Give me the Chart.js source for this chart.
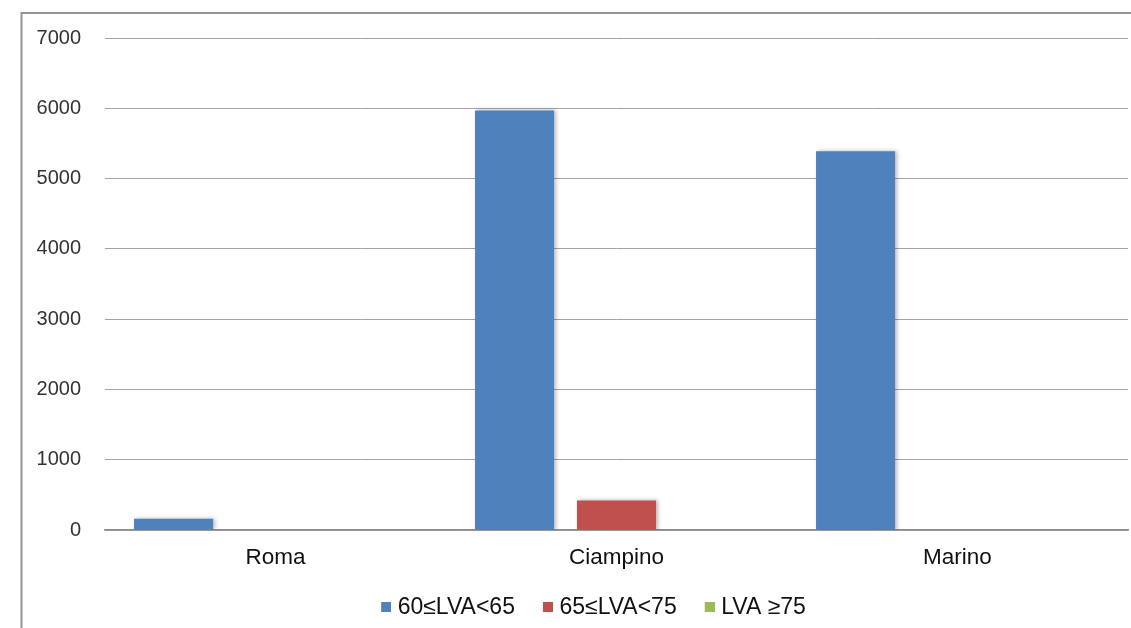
<!DOCTYPE html>
<html>
<head>
<meta charset="utf-8">
<script src="https://cdn.jsdelivr.net/npm/chart.js@4/dist/chart.umd.min.js"></script>
<style>
  html, body { margin: 0; padding: 0; background: #fff; }
  #wrap { width: 1131px; height: 628px; }
</style>
</head>
<body>
<div id="wrap"><canvas id="c" width="1131" height="628"></canvas></div>
<script>
// Comuni e classi di esposizione al rumore
const categories = ['Roma', 'Ciampino', 'Marino'];
const seriesLabels = ['60≤LVA<65', '65≤LVA<75', 'LVA ≥75'];
const lva60to65 = [160, 5970, 5390];
const lva65to75 = [0, 420, 8];
const lva75plus = [0, 0, 0];
const yTicks = [0, 1000, 2000, 3000, 4000, 5000, 6000, 7000];

const colors = ['#4F81BD', '#C0504D', '#9BBB59'];
const FONT = '"Liberation Sans", Arial, sans-serif';

// small square swatch, drawn on the right half so it sits close to its text
function legendSwatch(color) {
  const c = document.createElement('canvas');
  c.width = 20;
  c.height = 10;
  const g = c.getContext('2d');
  g.fillStyle = color;
  g.fillRect(10, 0, 10, 10);
  return c;
}

// white background plus the grey frame on the left and top edges
const framePlugin = {
  id: 'frame',
  beforeDraw(chart) {
    const ctx = chart.ctx;
    ctx.save();
    ctx.fillStyle = '#fff';
    ctx.fillRect(0, 0, chart.width, chart.height);
    ctx.strokeStyle = '#959595';
    ctx.lineWidth = 2;
    ctx.beginPath();
    ctx.moveTo(21.5, chart.height);
    ctx.lineTo(21.5, 13);
    ctx.lineTo(chart.width, 13);
    ctx.stroke();
    ctx.restore();
  }
};

// centre the legend row under the frame rather than the full canvas
const legendShift = {
  id: 'legendShift',
  afterLayout(chart) {
    if (chart.legend) {
      chart.legend.left += 54;
      chart.legend.top += 2;
      chart.legend.bottom += 2;
    }
  }
};

// soft drop shadow under the bars
const shadowPlugin = {
  id: 'barShadow',
  beforeDatasetsDraw(chart) {
    const ctx = chart.ctx;
    ctx.save();
    ctx.shadowColor = 'rgba(0,0,0,0.28)';
    ctx.shadowBlur = 4;
    ctx.shadowOffsetX = 2;
    ctx.shadowOffsetY = 0;
  },
  afterDatasetsDraw(chart) {
    chart.ctx.restore();
  }
};

const seriesValues = [lva60to65, lva65to75, lva75plus];

new Chart(document.getElementById('c'), {
  type: 'bar',
  data: {
    labels: categories,
    datasets: seriesValues.map((vals, i) => ({
      label: seriesLabels[i],
      data: vals,
      backgroundColor: colors[i],
      borderWidth: 0,
      pointStyle: legendSwatch(colors[i]),
      categoryPercentage: 0.897,
      barPercentage: 0.775
    }))
  },
  options: {
    responsive: false,
    animation: false,
    devicePixelRatio: 1,
    layout: { padding: { top: 38, right: 3, left: 0, bottom: 1.25 } },
    scales: {
      y: {
        min: 0,
        max: 7000,
        afterBuildTicks(scale) { scale.ticks = yTicks.map(v => ({ value: v })); },
        afterFit(scale) { scale.width = 105; },
        border: { display: false },
        grid: { color: '#a3a3a3', lineWidth: 1, drawTicks: false },
        ticks: {
          padding: 24,
          color: '#333',
          font: { family: FONT, size: 20 },
          callback: v => String(v)
        }
      },
      x: {
        afterFit(scale) { scale.height = 40.75; },
        grid: { display: false, drawTicks: false },
        border: { display: true, color: '#8c8c8c', width: 1.5 },
        ticks: {
          padding: 14.5,
          color: '#111',
          font: { family: FONT, size: 22.5 }
        }
      }
    },
    plugins: {
      tooltip: { enabled: false },
      legend: {
        position: 'bottom',
        labels: {
          usePointStyle: true,
          boxWidth: 10,
          boxHeight: 10,
          padding: 23,
          color: '#111',
          font: { family: FONT, size: 23 }
        }
      }
    }
  },
  plugins: [framePlugin, legendShift, shadowPlugin]
});
</script>
</body>
</html>
